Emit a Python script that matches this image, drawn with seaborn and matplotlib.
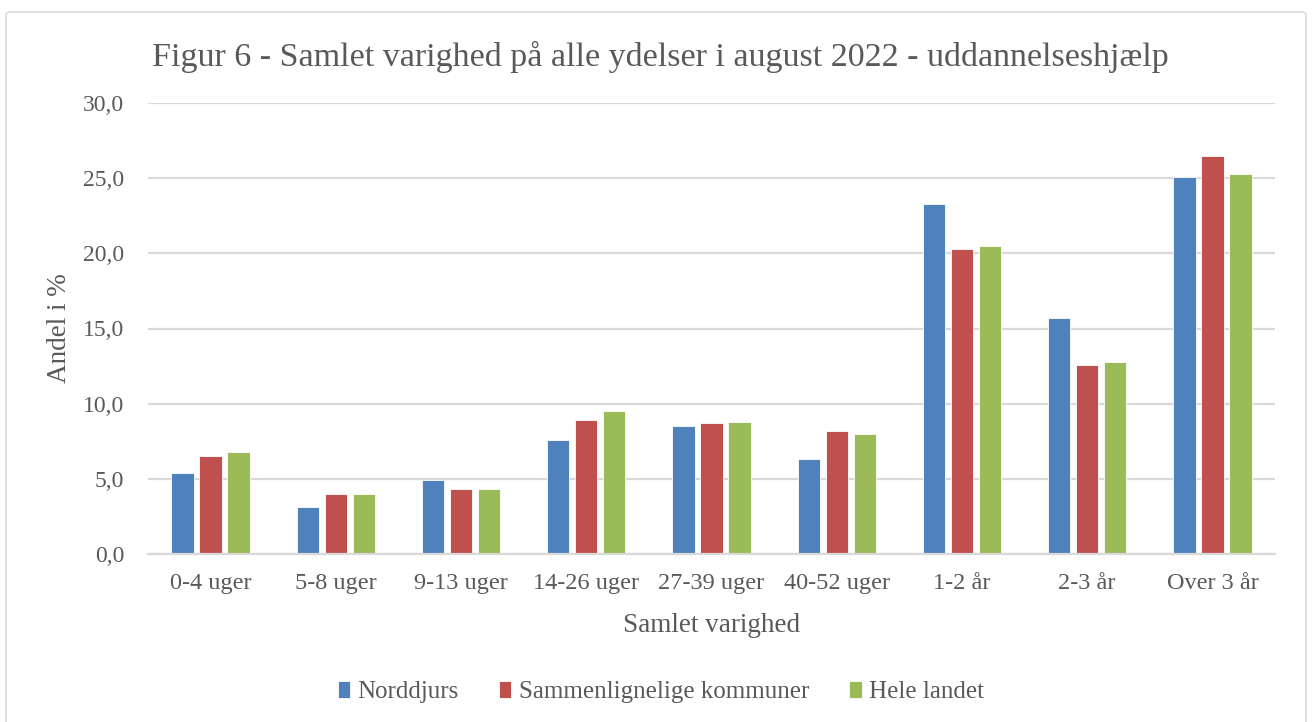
import matplotlib
matplotlib.use("Agg")
import matplotlib.pyplot as plt
import seaborn as sns
import pandas as pd
from matplotlib.ticker import FuncFormatter, MultipleLocator
from matplotlib.patches import FancyBboxPatch

categories = ["0-4 uger", "5-8 uger", "9-13 uger", "14-26 uger", "27-39 uger",
              "40-52 uger", "1-2 år", "2-3 år", "Over 3 år"]
series = ["Norddjurs", "Sammenlignelige kommuner", "Hele landet"]
norddjurs = [5.4, 3.1, 4.9, 7.6, 8.5, 6.3, 23.3, 15.7, 25.1]
sammenlignelige = [6.5, 4.0, 4.3, 8.9, 8.7, 8.2, 20.3, 12.6, 26.5]
hele_landet = [6.8, 4.0, 4.3, 9.5, 8.8, 8.0, 20.5, 12.8, 25.3]
colors = ["#4F81BD", "#C0504D", "#9BBB59"]

rows = []
for s, vals in zip(series, [norddjurs, sammenlignelige, hele_landet]):
    for c, v in zip(categories, vals):
        rows.append({"kat": c, "serie": s, "andel": v})
df = pd.DataFrame(rows)

sns.set_theme(style="white")
plt.rcParams["font.family"] = ["Liberation Serif", "DejaVu Serif"]
text_color = "#595959"

fig = plt.figure(figsize=(13.13, 7.22), dpi=100)
fig.patch.set_facecolor("white")
border = FancyBboxPatch((6 / 1313, -0.01), 1300 / 1313, 710 / 722 + 0.01,
                        boxstyle="round,pad=0,rounding_size=0.004",
                        transform=fig.transFigure, fill=False,
                        edgecolor="#D9D9D9", linewidth=1.2)
fig.patches.append(border)

ax = fig.add_axes([148 / 1313, 1 - 554 / 722, (1275 - 148) / 1313, (554 - 103) / 722])
sns.barplot(data=df, x="kat", y="andel", hue="serie", order=categories,
            hue_order=series, palette=colors, width=0.67, gap=0.2,
            saturation=1, ax=ax, legend=True, edgecolor="white", linewidth=0.6)

ax.set_ylim(0, 30)
ax.set_xlim(-0.5, len(categories) - 0.5)
ax.yaxis.set_major_locator(MultipleLocator(5))
ax.yaxis.set_major_formatter(FuncFormatter(lambda v, p: f"{v:.1f}".replace(".", ",")))
ax.grid(axis="y", color="#D9D9D9", linewidth=1.6)
ax.set_axisbelow(True)
for side in ["top", "right", "left"]:
    ax.spines[side].set_visible(False)
ax.spines["bottom"].set_color("#D9D9D9")
ax.spines["bottom"].set_linewidth(1.6)
ax.tick_params(axis="x", length=0, labelsize=17.5, colors=text_color, pad=14)
ax.tick_params(axis="y", length=0, labelsize=17, colors=text_color, pad=17)
ax.set_xlabel("Samlet varighed", fontsize=19.5, color=text_color, labelpad=13)
ax.set_ylabel("Andel i %", fontsize=19.5, color=text_color, labelpad=8)

fig.text(152 / 1313, 1 - 57 / 722, "Figur 6 - Samlet varighed på alle ydelser i august 2022 - uddannelseshjælp",
         fontsize=24.5, color=text_color, va="center", ha="left")

handles, labels = ax.get_legend_handles_labels()
ax.legend_.remove()
leg = fig.legend(handles, labels, loc="center", bbox_to_anchor=(661 / 1313, 1 - 692 / 722),
                 ncol=3, frameon=False, fontsize=18, handlelength=0.5, handleheight=0.7,
                 handletextpad=0.3, columnspacing=1.6, labelcolor=text_color)

fig.savefig("out.png", dpi=100, facecolor="white")
